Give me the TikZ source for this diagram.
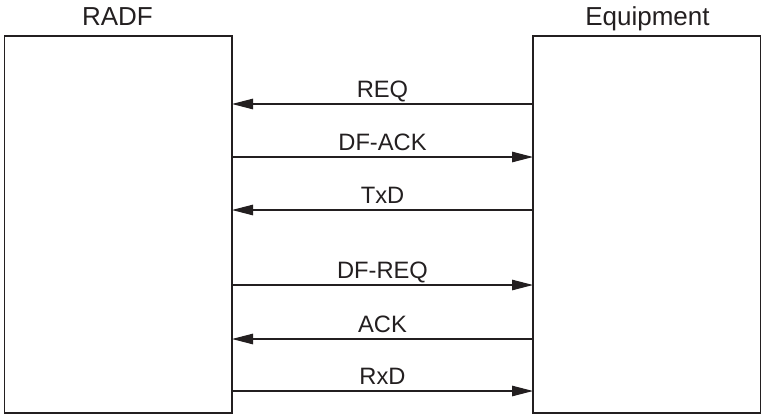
\documentclass[tikz,border=0pt]{standalone}
\usepackage{fontspec}
\setmainfont{Liberation Sans}
\usetikzlibrary{arrows.meta}
\definecolor{ink}{HTML}{231F20}
\begin{document}
\begin{tikzpicture}[x=1pt,y=-1pt,
  box/.style={draw=ink, line width=1.2pt, minimum width=227.5pt, minimum height=377pt, inner sep=0pt, outer sep=0pt, anchor=north west},
  msg/.style={draw=ink, line width=1.1pt, -{Triangle[length=21pt,width=10.5pt]}},
  head/.style={text=ink, font=\fontsize{26}{29}\selectfont, anchor=base},
  lbl/.style={text=ink, font=\fontsize{23.7}{27}\selectfont, anchor=base}]
\useasboundingbox (0,0) rectangle (761,415);
\node[box] (radf) at (4.5,36) {};
\node[box] (eq) at (533,36) {};
\node[head] (radft) at (117.5,25) {RADF};
\node[head] (eqt) at (647.5,25) {Equipment};
\coordinate (y1) at (0,104);
\coordinate (y2) at (0,157);
\coordinate (y3) at (0,210);
\coordinate (y4) at (0,285);
\coordinate (y5) at (0,339);
\coordinate (y6) at (0,391);
\draw[msg] (eq.west |- y1) -- (radf.east |- y1);
\draw[msg] (radf.east |- y2) -- (eq.west |- y2);
\draw[msg] (eq.west |- y3) -- (radf.east |- y3);
\draw[msg] (radf.east |- y4) -- (eq.west |- y4);
\draw[msg] (eq.west |- y5) -- (radf.east |- y5);
\draw[msg] (radf.east |- y6) -- (eq.west |- y6);
\node[lbl] (l1) at (382.5,97) {REQ};
\node[lbl] (l2) at (382.5,150.5) {DF-ACK};
\node[lbl] (l3) at (382.5,203) {TxD};
\node[lbl] (l4) at (382.5,278) {DF-REQ};
\node[lbl] (l5) at (382.5,332) {ACK};
\node[lbl] (l6) at (382.5,384) {RxD};
\end{tikzpicture}
\end{document}
